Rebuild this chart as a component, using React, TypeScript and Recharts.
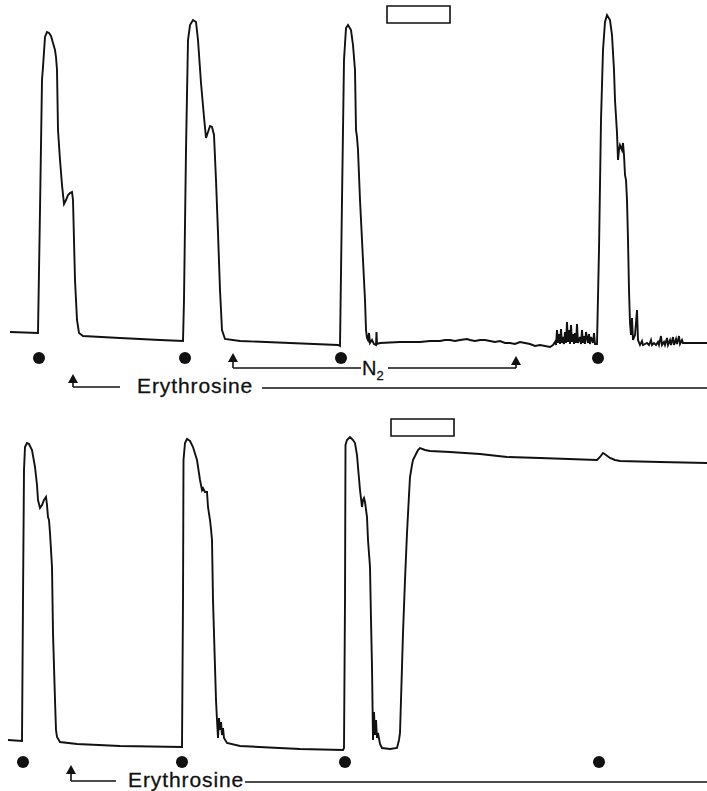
import React from "react";
import {
  LineChart,
  Line,
  XAxis,
  YAxis,
  ReferenceDot,
  ReferenceLine,
  ReferenceArea,
} from "recharts";

// ---------- Upper record (time units, signal units) ----------
const topResponse1: [number, number][] = [
  [10, 68], [38, 67], [40, 190], [42, 320], [43, 333], [45, 363], [47, 368], [49, 367],
  [51, 364], [53, 357], [55, 350], [56, 343], [57, 330], [58, 270], [60, 240], [62, 215],
  [64, 196], [66, 200], [68, 205], [70, 207], [72, 208], [73, 200], [74, 160], [75, 120],
  [76, 100], [77, 80], [79, 67], [83, 64], [120, 62], [160, 60], [183, 59],
];
const topResponse2: [number, number][] = [
  [184, 100], [186, 250], [188, 360], [190, 375], [193, 380], [196, 378], [198, 360],
  [201, 317], [204, 283], [206, 262], [208, 268], [210, 274], [212, 273], [214, 265],
  [216, 220], [218, 167], [220, 110], [222, 70], [225, 61], [240, 59], [290, 57], [338, 55],
];
const topResponse3: [number, number][] = [
  [340, 54], [342, 200], [344, 340], [346, 372], [348, 375], [351, 370], [353, 355],
  [355, 330], [356, 270], [357, 263], [358, 250], [360, 200], [363, 140], [365, 100],
  [366, 70], [367, 62], [368, 60], [369, 67], [370, 57], [372, 60], [374, 56], [376, 55],
  [376.5, 68], [377, 56], [380, 57], [400, 58], [420, 58], [430, 59], [440, 59], [445, 60],
  [450, 60], [455, 59], [460, 60], [467, 61], [470, 60], [475, 59], [480, 60], [485, 60],
  [490, 59], [495, 58], [500, 59], [505, 57], [510, 57], [515, 56], [520, 58], [525, 57],
  [530, 56], [535, 54], [540, 55], [550, 53],
];
const topNitrogenNoise: [number, number][] = [
  [553, 55], [555, 58], [556, 55], [557, 70], [558, 57], [559, 66], [560, 56], [561, 71],
  [562, 57], [563, 63], [564, 56], [565, 68], [566, 57], [567, 78], [568, 58], [569, 70],
  [570, 56], [571, 75], [572, 58], [573, 66], [574, 56], [575, 67], [576, 57], [577, 76],
  [578, 57], [580, 63], [581, 56], [582, 70], [583, 57], [584, 64], [585, 56], [586, 68],
  [588, 57], [589, 66], [590, 56], [591, 63], [593, 57], [594, 67], [595, 56],
];
const topResponse4: [number, number][] = [
  [597, 56], [599, 150], [601, 280], [603, 350], [605, 378], [607, 385], [610, 380],
  [612, 365], [614, 330], [615, 300], [617, 267], [618, 240], [619, 250], [620, 255],
  [622, 250], [623, 257], [624, 245], [625, 225], [626, 220], [627, 200], [628, 160],
  [629, 110], [630, 77], [631, 65], [632, 82], [633, 60], [635, 65], [637, 90], [638, 60],
  [640, 55], [642, 59], [643, 55], [645, 56], [647, 57], [649, 55], [651, 60], [652, 55],
  [654, 57], [656, 55], [658, 58], [659, 55], [661, 64], [662, 55], [664, 58], [665, 55],
  [667, 62], [668, 55], [670, 60], [671, 55], [673, 63], [674, 55], [676, 61], [677, 56],
  [679, 64], [680, 56], [682, 60], [683, 57], [707, 57],
];

// ---------- Lower record ----------
const bottomResponse1: [number, number][] = [
  [8, 51], [22, 50], [23, 191], [24, 321], [25, 344], [27, 348], [29, 347], [32, 341],
  [35, 324], [37, 306], [38, 291], [40, 283], [42, 286], [44, 291], [46, 294], [47, 286],
  [48, 274], [49, 271], [50, 258], [52, 224], [53, 158], [55, 91], [56, 61], [57, 54],
  [60, 49], [77, 47], [120, 45], [182, 44],
];
const bottomResponse2: [number, number][] = [
  [183, 191], [183.5, 331], [185, 348], [187, 352], [190, 350], [193, 344], [197, 331],
  [200, 311], [202, 301], [203, 303], [205, 299], [207, 299], [208, 284], [210, 271],
  [211, 262], [212, 251], [213, 191], [215, 124], [216, 91], [217, 71], [218, 53],
  [219, 73], [220, 61], [221, 69], [222, 56], [223, 63], [224, 53], [227, 48], [240, 45],
  [300, 42], [343, 41],
];
const bottomResponse3: [number, number][] = [
  [344, 43], [345, 191], [345.5, 346], [347, 351], [350, 354], [353, 351], [355, 348],
  [357, 336], [358, 324], [360, 301], [362, 284], [363, 291], [364, 293], [365, 289],
  [367, 274], [368, 251], [370, 224], [371, 171], [372, 124], [373, 51], [374, 79],
  [375, 56], [376, 71], [377, 53], [378, 58], [380, 47], [382, 43], [390, 42], [397, 43],
  [399, 51], [400, 58], [401, 91], [403, 158], [405, 211], [407, 258], [409, 296],
  [410, 314], [412, 326], [413, 331], [416, 337], [418, 341], [420, 343], [425, 341],
  [430, 340], [450, 339], [480, 337], [507, 334], [540, 333], [597, 331], [600, 334],
  [603, 338], [606, 336], [610, 333], [615, 331], [620, 330], [660, 329], [707, 328],
];

// ---------- Annotations ----------
const topStimuli = [39, 185, 341, 598];
const bottomStimuli = [23, 182, 345, 599];
const topStimulusLevel = 42;
const bottomStimulusLevel = 29;

const toRows = (segments: [number, number][][]) =>
  segments.flat().map(([t, v]) => ({ t, v }));

const topData = toRows([topResponse1, topResponse2, topResponse3, topNitrogenNoise, topResponse4]);
const bottomData = toRows([bottomResponse1, bottomResponse2, bottomResponse3]);

const INK = "#111";
const FONT = "'Liberation Sans', Arial, Helvetica, sans-serif";

const ArrowHead = (props: any) => {
  const { cx, cy } = props;
  if (cx == null || cy == null) return null;
  return (
    <polygon
      points={`${cx},${cy} ${cx - 5},${cy + 9} ${cx + 5},${cy + 9}`}
      fill={INK}
    />
  );
};

const makeText = (text: string, size: number, spacing: number) => (props: any) => {
  const { cx, cy } = props;
  if (cx == null || cy == null) return null;
  return (
    <text
      x={cx}
      y={cy}
      fontFamily={FONT}
      fontSize={size}
      letterSpacing={spacing}
      fill={INK}
      stroke={INK}
      strokeWidth={0.3}
    >
      {text}
    </text>
  );
};

const N2Label = (props: any) => {
  const { cx, cy } = props;
  if (cx == null || cy == null) return null;
  return (
    <text x={cx} y={cy} fontFamily={FONT} fontSize={20} fill={INK} stroke={INK} strokeWidth={0.3}>
      N
      <tspan fontSize={13} dy={5}>2</tspan>
    </text>
  );
};

const lineStyle = { stroke: INK, strokeWidth: 1.6 };

export default function App() {
  return (
    <div style={{ position: "absolute", left: 0, top: 0, width: 707, height: 791, background: "#fff" }}>
      <LineChart width={707} height={400} data={topData} margin={{ top: 0, right: 0, bottom: 0, left: 0 }}>
        <XAxis type="number" dataKey="t" domain={[0, 707]} hide />
        <YAxis type="number" domain={[0, 400]} hide />
        <Line
          dataKey="v"
          type="linear"
          stroke={INK}
          strokeWidth={1.9}
          dot={false}
          activeDot={false}
          isAnimationActive={false}
        />
        {/* bar marking N2 period */}
        <ReferenceArea x1={387} x2={450} y1={377} y2={394} fill="none" stroke={INK} strokeWidth={1.6} />
        {topStimuli.map((t) => (
          <ReferenceDot key={t} x={t} y={topStimulusLevel} r={6} fill={INK} stroke="none" />
        ))}
        {/* N2 bracket */}
        <ReferenceLine segment={[{ x: 233, y: 40 }, { x: 233, y: 32 }]} {...lineStyle} />
        <ReferenceLine segment={[{ x: 233, y: 32 }, { x: 361, y: 32 }]} {...lineStyle} />
        <ReferenceLine segment={[{ x: 388, y: 32 }, { x: 516, y: 32 }]} {...lineStyle} />
        <ReferenceLine segment={[{ x: 516, y: 32 }, { x: 516, y: 40 }]} {...lineStyle} />
        <ReferenceDot x={233} y={47} r={0} shape={ArrowHead} />
        <ReferenceDot x={516} y={44} r={0} shape={ArrowHead} />
        <ReferenceDot x={362} y={25} r={0} shape={N2Label} />
        {/* Erythrosine */}
        <ReferenceLine segment={[{ x: 73, y: 20 }, { x: 73, y: 13 }]} {...lineStyle} />
        <ReferenceLine segment={[{ x: 73, y: 13 }, { x: 120, y: 13 }]} {...lineStyle} />
        <ReferenceDot x={73} y={26} r={0} shape={ArrowHead} />
        <ReferenceDot x={137} y={7} r={0} shape={makeText("Erythrosine", 21, 0.9)} />
        <ReferenceLine segment={[{ x: 262, y: 12 }, { x: 707, y: 12 }]} {...lineStyle} />
      </LineChart>
      <LineChart width={707} height={391} data={bottomData} margin={{ top: 0, right: 0, bottom: 0, left: 0 }}>
        <XAxis type="number" dataKey="t" domain={[0, 707]} hide />
        <YAxis type="number" domain={[0, 391]} hide />
        <Line
          dataKey="v"
          type="linear"
          stroke={INK}
          strokeWidth={1.9}
          dot={false}
          activeDot={false}
          isAnimationActive={false}
        />
        <ReferenceArea x1={391} x2={454} y1={355} y2={372} fill="none" stroke={INK} strokeWidth={1.6} />
        {bottomStimuli.map((t) => (
          <ReferenceDot key={t} x={t} y={bottomStimulusLevel} r={6} fill={INK} stroke="none" />
        ))}
        <ReferenceLine segment={[{ x: 71, y: 19 }, { x: 71, y: 10 }]} {...lineStyle} />
        <ReferenceLine segment={[{ x: 71, y: 10 }, { x: 116, y: 10 }]} {...lineStyle} />
        <ReferenceDot x={71} y={26} r={0} shape={ArrowHead} />
        <ReferenceDot x={128} y={4} r={0} shape={makeText("Erythrosine", 21, 0.9)} />
        <ReferenceLine segment={[{ x: 245, y: 9 }, { x: 707, y: 9 }]} {...lineStyle} />
      </LineChart>
    </div>
  );
}
